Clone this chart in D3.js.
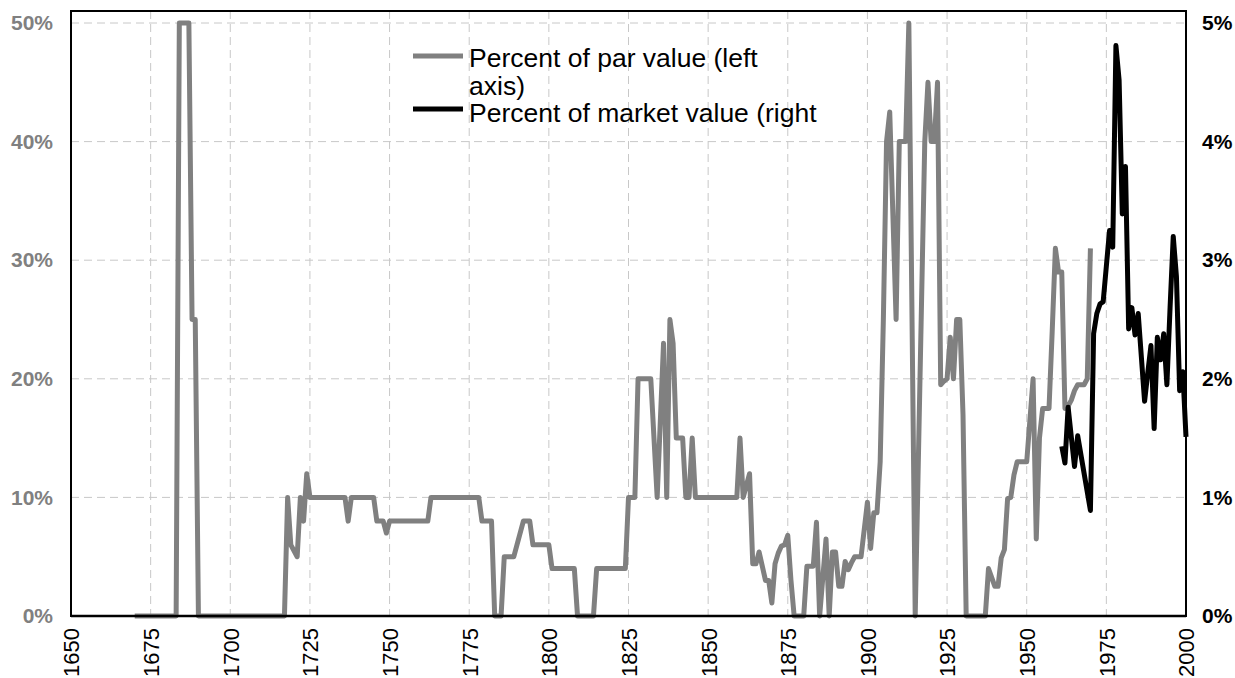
<!DOCTYPE html>
<html>
<head>
<meta charset="utf-8">
<script src="https://cdn.jsdelivr.net/npm/d3@7"></script>
<style>
  body { margin: 0; background: #fff; }
  svg { display: block; font-family: "Liberation Sans", Arial, sans-serif; }
</style>
</head>
<body>
<script>
// percent of par value, left axis (year, %)
var parYears = [1670, 1683, 1684, 1687, 1688, 1689, 1690, 1717, 1718, 1719, 1720, 1721, 1722, 1723, 1724, 1725,
  1736, 1737, 1738, 1745, 1746, 1748, 1749, 1750, 1762, 1763, 1778, 1779, 1782, 1783, 1785, 1786, 1789,
  1792, 1794, 1795, 1800, 1801, 1808, 1809, 1814, 1815, 1824, 1825, 1827, 1828, 1832, 1834, 1836, 1837,
  1838, 1839, 1840, 1842, 1843, 1844, 1845, 1846, 1859, 1860, 1861, 1863, 1864, 1865, 1866, 1868, 1869,
  1870, 1871, 1872, 1873, 1874, 1875, 1876, 1877, 1880, 1881, 1883, 1884, 1885, 1887, 1888, 1889, 1890,
  1891, 1892, 1893, 1894, 1895, 1896, 1898, 1900, 1901, 1902, 1903, 1904, 1905, 1906, 1907, 1909, 1910,
  1912, 1913, 1915, 1918, 1919, 1920, 1921, 1922, 1923, 1924, 1925, 1926, 1927, 1928, 1929, 1930, 1931,
  1937, 1938, 1940, 1941, 1942, 1943, 1944, 1945, 1946, 1947, 1950, 1952, 1953, 1954, 1955, 1957, 1958,
  1959, 1960, 1961, 1962, 1963, 1964, 1965, 1966, 1968, 1969, 1970];
var parPct = [0, 0, 50, 50, 25, 25, 0, 0, 10, 6, 5.5, 5, 10, 8, 12, 10,
  10, 8, 10, 10, 8, 8, 7, 8, 8, 10, 10, 8, 8, 0, 0, 5, 5,
  8, 8, 6, 6, 4, 4, 0, 0, 4, 4, 10, 10, 20, 20, 10, 23, 10,
  25, 23, 15, 15, 10, 10, 15, 10, 10, 15, 10, 12, 4.4, 4.4, 5.4, 3, 3,
  1.1, 4.4, 5.3, 5.9, 6.0, 6.8, 3, 0, 0, 4.2, 4.2, 7.9, 0, 6.5, 0, 5.4, 5.4,
  2.5, 2.5, 4.6, 3.9, 4.5, 5, 5, 9.6, 5.7, 8.7, 8.7, 13, 25, 40, 42.5, 25, 40,
  40, 50, 0, 40, 45, 40, 40, 45, 19.5, 19.8, 20, 23.5, 20, 25, 25, 17, 0,
  0, 4, 2.5, 2.5, 4.9, 5.6, 9.9, 10, 11.9, 13, 13, 20, 6.5, 15, 17.5, 17.5, 24,
  31, 29, 29, 17.5, 17.7, 18.2, 19, 19.5, 19.5, 20, 31];

// percent of market value, right axis
var marketYears = [1961, 1962, 1963, 1965, 1966, 1970, 1971, 1972, 1973, 1974, 1975, 1976, 1977, 1978, 1979,
  1980, 1981, 1982, 1983, 1984, 1985, 1986, 1987, 1988, 1989, 1990, 1991, 1992, 1993, 1994, 1995, 1996,
  1997, 1998, 1999, 2000];
var marketPct = [1.43, 1.29, 1.76, 1.26, 1.52, 0.89, 2.38, 2.55, 2.63, 2.65, 2.95, 3.25, 3.11, 4.81, 4.52,
  3.39, 3.79, 2.42, 2.60, 2.37, 2.55, 2.18, 1.81, 2.05, 2.28, 1.58, 2.35, 2.16, 2.38, 1.95, 2.60, 3.20,
  2.86, 1.90, 2.06, 1.51];

var xTicks = [1650, 1675, 1700, 1725, 1750, 1775, 1800, 1825, 1850, 1875, 1900, 1925, 1950, 1975, 2000];
var leftTicks = [0, 10, 20, 30, 40, 50];
var rightTicks = [0, 1, 2, 3, 4, 5];
var legendLines = ["Percent of par value (left", "axis)", "Percent of market value (right"];

var width = 1235, height = 678;
var plotLeft = 71, plotRight = 1186, plotTop = 11, plotBottom = 616;

var svg = d3.select('body').append('svg').attr('width', width).attr('height', height);

var x = d3.scaleLinear().domain([1650, 2000]).range([plotLeft, plotRight]);
var yL = d3.scaleLinear().domain([0, 50]).range([plotBottom, 23]);
var yR = d3.scaleLinear().domain([0, 5]).range([plotBottom, 23]);

// grid
svg.append('g').selectAll('line')
  .data(xTicks.slice(1, -1))
  .enter().append('line')
  .attr('x1', function (d) { return x(d); })
  .attr('x2', function (d) { return x(d); })
  .attr('y1', plotTop).attr('y2', plotBottom)
  .attr('stroke', '#c8c8c8').attr('stroke-width', 1).attr('stroke-dasharray', '8,5');

svg.append('g').selectAll('line')
  .data(leftTicks.slice(1))
  .enter().append('line')
  .attr('x1', plotLeft).attr('x2', plotRight)
  .attr('y1', function (d) { return yL(d); })
  .attr('y2', function (d) { return yL(d); })
  .attr('stroke', '#c8c8c8').attr('stroke-width', 1).attr('stroke-dasharray', '8,5');

// frame
svg.append('rect')
  .attr('x', plotLeft).attr('y', plotTop)
  .attr('width', plotRight - plotLeft).attr('height', plotBottom - plotTop)
  .attr('fill', 'none').attr('stroke', '#000').attr('stroke-width', 2);

// series
var parLine = d3.line()
  .x(function (d, i) { return x(parYears[i]); })
  .y(function (d) { return yL(d); });
var mktLine = d3.line()
  .x(function (d, i) { return x(marketYears[i]); })
  .y(function (d) { return yR(d); });

svg.append('path').datum(parPct)
  .attr('d', parLine)
  .attr('fill', 'none').attr('stroke', '#808080').attr('stroke-width', 5)
  .attr('stroke-linejoin', 'round');

svg.append('path').datum(marketPct)
  .attr('d', mktLine)
  .attr('fill', 'none').attr('stroke', '#000').attr('stroke-width', 5)
  .attr('stroke-linejoin', 'round');

svg.append('line')
  .attr('x1', plotLeft).attr('x2', plotRight).attr('y1', plotBottom).attr('y2', plotBottom)
  .attr('stroke', '#000').attr('stroke-width', 2.5);

// axes labels
var axisL = d3.axisLeft(yL).tickValues(leftTicks).tickSize(0).tickPadding(18)
  .tickFormat(function (d) { return d + '%'; });
var gL = svg.append('g').attr('transform', 'translate(' + plotLeft + ',0)').call(axisL);
gL.select('.domain').remove();
gL.selectAll('text').attr('fill', '#808080').style('font-size', '21px').style('font-weight', 'bold')
  .style('font-family', '"Liberation Sans", Arial, sans-serif');

var axisR = d3.axisRight(yR).tickValues(rightTicks).tickSize(0).tickPadding(16)
  .tickFormat(function (d) { return d + '%'; });
var gR = svg.append('g').attr('transform', 'translate(' + plotRight + ',0)').call(axisR);
gR.select('.domain').remove();
gR.selectAll('text').attr('fill', '#000').style('font-size', '21px').style('font-weight', 'bold')
  .style('font-family', '"Liberation Sans", Arial, sans-serif');

var axisB = d3.axisBottom(x).tickValues(xTicks).tickSize(0).tickFormat(d3.format('d'));
var gB = svg.append('g').attr('transform', 'translate(0,' + plotBottom + ')').call(axisB);
gB.select('.domain').remove();
gB.selectAll('text')
  .attr('transform', 'rotate(-90)')
  .attr('x', -12).attr('y', 0).attr('dy', '0.36em')
  .attr('text-anchor', 'end')
  .attr('fill', '#000')
  .style('font-size', '22px')
  .style('font-family', '"Liberation Sans", Arial, sans-serif');

// legend
var legend = svg.append('g');
legend.append('line').attr('x1', 413).attr('x2', 463).attr('y1', 56).attr('y2', 56)
  .attr('stroke', '#808080').attr('stroke-width', 5);
legend.append('line').attr('x1', 413).attr('x2', 463).attr('y1', 109).attr('y2', 109)
  .attr('stroke', '#000').attr('stroke-width', 5);
legend.selectAll('text')
  .data(legendLines)
  .enter().append('text')
  .attr('x', 469)
  .attr('y', function (d, i) { return 67 + i * 27.5; })
  .attr('fill', '#000')
  .style('font-size', '26.5px')
  .text(function (d) { return d; });
</script>
</body>
</html>
